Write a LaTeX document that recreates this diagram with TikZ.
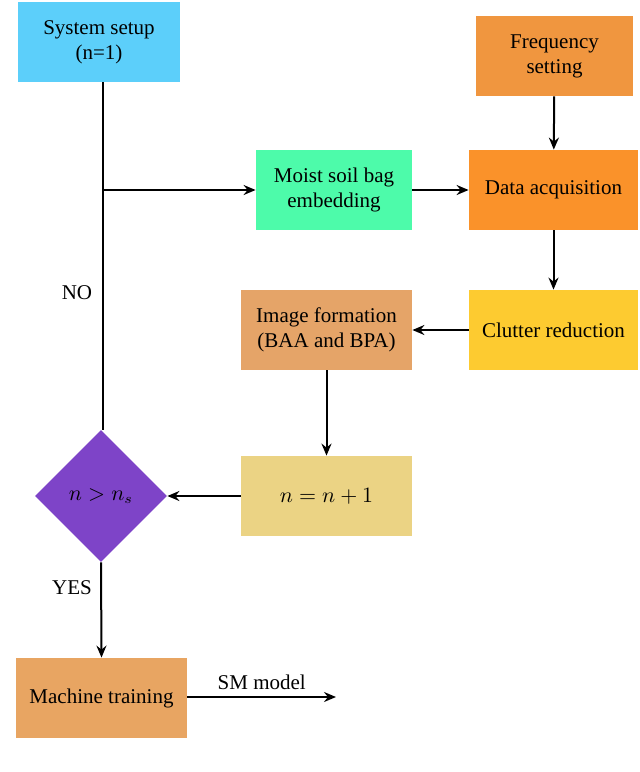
\documentclass[tikz,border=0pt]{standalone}
\usepackage{fontspec}
\setmainfont{Liberation Serif}
\usetikzlibrary{shapes.geometric,arrows.meta}
\definecolor{cSys}{HTML}{5CCFFA}
\definecolor{cFreq}{HTML}{F0963F}
\definecolor{cMoist}{HTML}{4DFBAA}
\definecolor{cData}{HTML}{FA922A}
\definecolor{cClut}{HTML}{FDCB30}
\definecolor{cImg}{HTML}{E5A468}
\definecolor{cInc}{HTML}{EBD384}
\definecolor{cDia}{HTML}{7E44C8}
\definecolor{cMach}{HTML}{E8A562}
\begin{document}
\begin{tikzpicture}[x=0.5pt,y=-0.5pt,
  box/.style={draw=none,minimum width=#1,minimum height=40pt,align=center,inner sep=0pt,font=\fontsize{10.5}{12.5}\selectfont},
  arr/.style={-{Stealth[length=6pt,width=5pt,inset=2pt]},line width=1pt},
  lbl/.style={font=\fontsize{10.5}{12.5}\selectfont}]
\useasboundingbox (0,0) rectangle (640,772);
\node[box=81pt,fill=cSys] (sys) at (99,42) {System setup\\(n=1)};
\node[box=78.5pt,fill=cFreq] (freq) at (554.5,56) {Frequency\\setting};
\node[box=78pt,fill=cMoist] (moist) at (334,190) {Moist soil bag\\embedding};
\node[box=84.5pt,fill=cData] (data) at (553.5,190) {Data acquisition};
\node[box=84.5pt,fill=cClut] (clut) at (553.5,330) {Clutter reduction};
\node[box=85.5pt,fill=cImg] (img) at (326.5,330) {Image formation\\(BAA and BPA)};
\node[box=85.5pt,fill=cInc] (inc) at (326.5,496) {$n=n+1$};
\node[diamond,fill=cDia,minimum width=66pt,minimum height=66pt,inner sep=0pt,lbl] (dia) at (101,496) {$n>n_s$};
\node[box=85.5pt,fill=cMach] (mach) at (101.5,698) {Machine training};
\coordinate (top) at (103,82);
\coordinate (br) at (103,190);
\coordinate (end) at (336,697);
\draw[line width=1pt] (top) -- (103,430);
\draw[arr] (br) -- (moist.west);
\draw[arr] (freq) -- (data);
\draw[arr] (moist) -- (data);
\draw[arr] (data) -- (clut);
\draw[arr] (clut) -- (img);
\draw[arr] (img) -- (inc);
\draw[arr] (inc) -- (dia);
\draw[arr] (dia.south) -- (mach.north);
\draw[arr] (mach.east |- end) -- node[lbl,above]{SM model} (end);
\node[lbl] (no) at (77,293) {NO};
\node[lbl] (yes) at (72,588) {YES};
\end{tikzpicture}
\end{document}
